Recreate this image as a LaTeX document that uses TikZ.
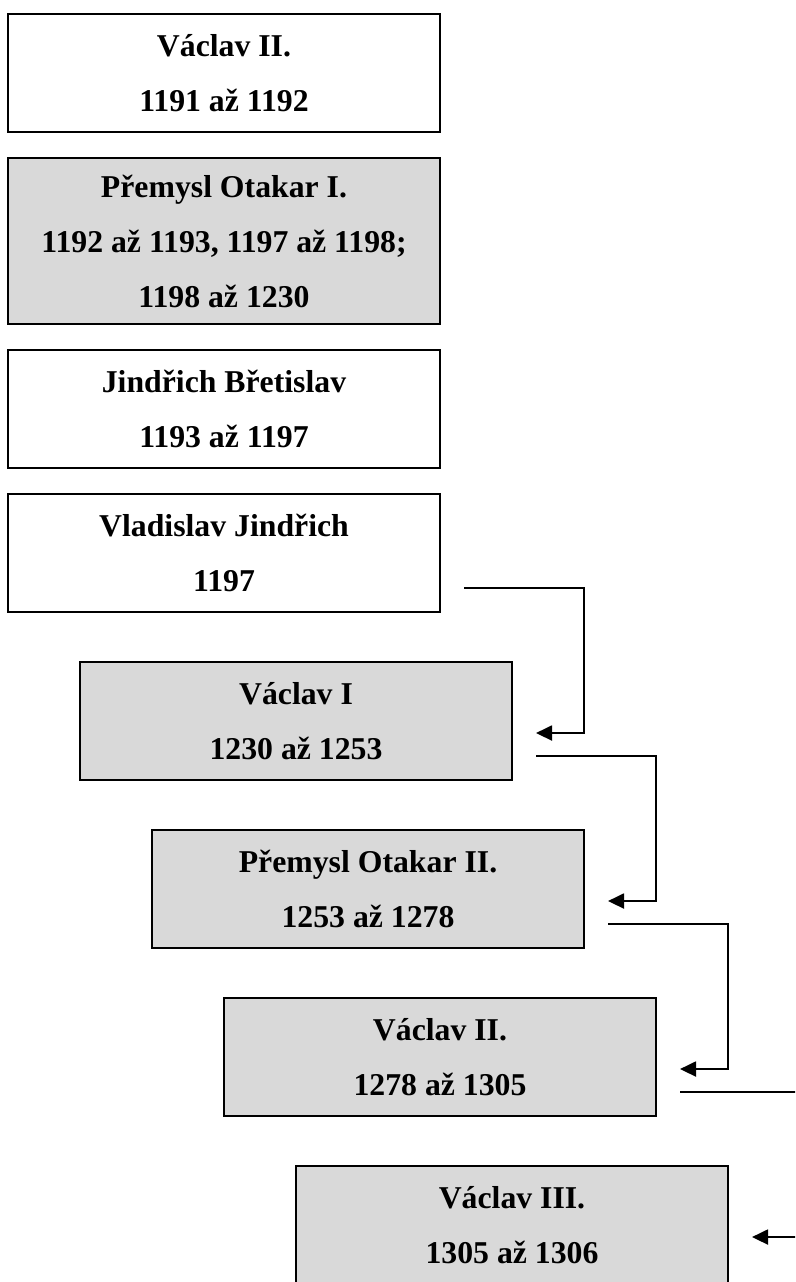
\documentclass[tikz,border=0pt]{standalone}
\usepackage{fontspec}
\setmainfont{Liberation Serif}
\usetikzlibrary{positioning,arrows.meta}
\definecolor{boxgrey}{RGB}{217,217,217}

\begin{document}
\begin{tikzpicture}[x=0.4pt,y=-0.4pt,
  main/.style = {draw, line width=0.8pt, minimum width=172.8pt, minimum height=47.2pt, outer sep=0pt, align=center, inner sep=0pt, font=\fontsize{12.7pt}{22pt}\selectfont\bfseries},
  link/.style = {line width=0.8pt, -{Triangle[length=6.4pt,width=6pt]}}]
\useasboundingbox (0,0) rectangle (795,1282);
\clip (0,0) rectangle (795,1282);
\node[main, anchor=north west] (1) at (8,14) {Václav II.\\1191 až 1192};
\node[main, fill=boxgrey, minimum height=66.4pt] (2) [below=10.4pt of 1] {Přemysl Otakar I.\\1192 až 1193, 1197 až 1198;\\1198 až 1230};
\node[main] (3) [below=10.4pt of 2] {Jindřich Břetislav\\1193 až 1197};
\node[main] (4) [below=10.4pt of 3] {Vladislav Jindřich\\1197};
\node[main, fill=boxgrey] (5) [below right=20pt and 28.8pt of 4.south west] {Václav I\\1230 až 1253};
\node[main, fill=boxgrey] (6) [below right=20pt and 28.8pt of 5.south west] {Přemysl Otakar II.\\1253 až 1278};
\node[main, fill=boxgrey] (7) [below right=20pt and 28.8pt of 6.south west] {Václav II.\\1278 až 1305};
\node[main, fill=boxgrey] (8) [below right=20pt and 28.8pt of 7.south west] {Václav III.\\1305 až 1306};
\draw[link] ([shift={(9.6pt,-14pt)}]4.east) -- ++(48pt,0pt) |- ([shift={(9.6pt,-4.8pt)}]5.east);
\draw[link] ([shift={(9.6pt,-14pt)}]5.east) -- ++(48pt,0pt) |- ([shift={(9.6pt,-4.8pt)}]6.east);
\draw[link] ([shift={(9.6pt,-14pt)}]6.east) -- ++(48pt,0pt) |- ([shift={(9.6pt,-4.8pt)}]7.east);
\draw[link] ([shift={(9.6pt,-14pt)}]7.east) -- ++(48pt,0pt) |- ([shift={(9.6pt,-4.8pt)}]8.east);
\end{tikzpicture}
\end{document}
